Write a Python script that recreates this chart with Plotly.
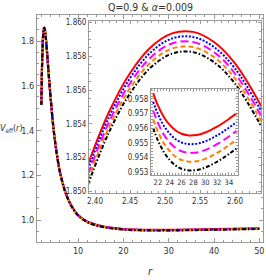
import plotly.graph_objects as go

# ---------------- data ----------------
r_main = [1.9, 2.0, 2.1, 2.2, 2.3, 2.4, 2.53, 2.64, 2.8, 3.0, 3.3, 3.6, 4.0, 4.5, 5, 5.5, 6, 7, 8, 9,
          10, 12, 14, 16, 18, 21, 24, 28, 32, 36, 40, 45, 50]
red_main = [1.5160, 1.6400, 1.7280, 1.7900, 1.8300, 1.8520, 1.8595, 1.8550, 1.8320, 1.7900, 1.7120, 1.6320,
            1.5350, 1.4250, 1.3400, 1.2720, 1.2150, 1.1380, 1.0850, 1.0490, 1.0220, 0.9930, 0.9780, 0.9695,
            0.9638, 0.9585, 0.9562, 0.9555, 0.9561, 0.9574, 0.9590, 0.9608, 0.9626]
blue_main = [1.5157, 1.6397, 1.7277, 1.7897, 1.8297, 1.8517, 1.8592, 1.8547, 1.8317, 1.7897, 1.7117, 1.6317,
             1.5347, 1.4245, 1.3395, 1.2715, 1.2145, 1.1375, 1.0845, 1.0485, 1.0215, 0.9925, 0.9774, 0.9689,
             0.9632, 0.9579, 0.9556, 0.9549, 0.9555, 0.9568, 0.9584, 0.9602, 0.9620]
magenta_main = [1.5154, 1.6394, 1.7274, 1.7894, 1.8294, 1.8514, 1.8589, 1.8544, 1.8314, 1.7894, 1.7114, 1.6314,
                1.5344, 1.4240, 1.3390, 1.2710, 1.2140, 1.1370, 1.0840, 1.0480, 1.0210, 0.9920, 0.9768, 0.9683,
                0.9626, 0.9573, 0.9550, 0.9543, 0.9549, 0.9562, 0.9578, 0.9596, 0.9614]
orange_main = [1.5151, 1.6391, 1.7271, 1.7891, 1.8291, 1.8511, 1.8586, 1.8541, 1.8311, 1.7891, 1.7111, 1.6311,
               1.5341, 1.4235, 1.3385, 1.2705, 1.2135, 1.1365, 1.0835, 1.0475, 1.0205, 0.9915, 0.9762, 0.9677,
               0.9620, 0.9567, 0.9544, 0.9537, 0.9543, 0.9556, 0.9572, 0.9590, 0.9608]
black_main = [1.5148, 1.6388, 1.7268, 1.7888, 1.8288, 1.8508, 1.8583, 1.8538, 1.8308, 1.7888, 1.7108, 1.6308,
              1.5338, 1.4230, 1.3380, 1.2700, 1.2130, 1.1360, 1.0830, 1.0470, 1.0200, 0.9910, 0.9756, 0.9671,
              0.9614, 0.9561, 0.9538, 0.9531, 0.9537, 0.9550, 0.9566, 0.9584, 0.9602]

# inset 1 (around the peak)
r_in1 = [2.39, 2.42, 2.45, 2.48, 2.51, 2.54, 2.57, 2.60, 2.64]
red_in1 = [1.8516, 1.8547, 1.8570, 1.85855, 1.85936, 1.85945, 1.85885, 1.85758, 1.85487]
blue_in1 = [1.8513, 1.8544, 1.8567, 1.85825, 1.85906, 1.85915, 1.85855, 1.85728, 1.85457]
magenta_in1 = [1.8510, 1.8541, 1.8564, 1.85795, 1.85876, 1.85885, 1.85825, 1.85698, 1.85427]
orange_in1 = [1.8507, 1.8538, 1.8561, 1.85765, 1.85846, 1.85855, 1.85795, 1.85668, 1.85397]
black_in1 = [1.8504, 1.8535, 1.8558, 1.85735, 1.85816, 1.85825, 1.85765, 1.85638, 1.85367]

# inset 2 (around the minimum)
r_in2 = [21.2, 22, 23, 24, 25, 26, 27, 28, 29, 30, 31, 32, 33, 34, 35.3]
red_in2 = [0.95840, 0.95756, 0.95677, 0.95622, 0.95584, 0.95562, 0.95552, 0.95551, 0.95557, 0.95570,
           0.95588, 0.95610, 0.95635, 0.95663, 0.95701]
blue_in2 = [0.95780, 0.95696, 0.95617, 0.95562, 0.95524, 0.95502, 0.95492, 0.95491, 0.95497, 0.95510,
            0.95528, 0.95550, 0.95575, 0.95603, 0.95641]
magenta_in2 = [0.95720, 0.95636, 0.95557, 0.95502, 0.95464, 0.95442, 0.95432, 0.95431, 0.95437, 0.95450,
               0.95468, 0.95490, 0.95515, 0.95543, 0.95581]
orange_in2 = [0.95660, 0.95576, 0.95497, 0.95442, 0.95404, 0.95382, 0.95372, 0.95371, 0.95377, 0.95390,
              0.95408, 0.95430, 0.95455, 0.95483, 0.95521]
black_in2 = [0.95600, 0.95516, 0.95437, 0.95382, 0.95344, 0.95322, 0.95312, 0.95311, 0.95317, 0.95330,
             0.95348, 0.95370, 0.95395, 0.95423, 0.95461]

main_xticks = [10, 20, 30, 40, 50]
main_yticks = [1.0, 1.2, 1.4, 1.6, 1.8]
in1_xticks = [2.40, 2.45, 2.50, 2.55, 2.60]
in1_yticks = [1.850, 1.852, 1.854, 1.856, 1.858, 1.860]
in2_xticks = [22, 24, 26, 28, 30, 32, 34]
in2_yticks = [0.953, 0.954, 0.955, 0.956, 0.957, 0.958]

title_text = "Q=0.9 &amp; <i>α</i>=0.009"

# ---------------- styles ----------------
styles = [
    ("#ff0000", "solid"),
    ("#0000ff", "2px,1.6px"),
    ("#ff00ff", "8px,4px"),
    ("#ff8000", "5px,3px"),
    ("#000000", "4px,2px,1.5px,2px"),
]
FONT = "Liberation Sans Narrow, Arial Narrow, DejaVu Sans Condensed, Liberation Sans, Arial, sans-serif"
FRAME = "#9a9a9a"

fig = go.Figure()

sets = [
    ("x", "y", r_main, [red_main, blue_main, magenta_main, orange_main, black_main], 2.2),
    ("x2", "y2", r_in1, [red_in1, blue_in1, magenta_in1, orange_in1, black_in1], 2.0),
    ("x3", "y3", r_in2, [red_in2, blue_in2, magenta_in2, orange_in2, black_in2], 2.0),
]
for xa, ya, xs, series, w in sets:
    for (col, dash), ys in zip(styles, series):
        fig.add_trace(go.Scatter(x=xs, y=ys, xaxis=xa, yaxis=ya, mode="lines",
                                 line=dict(color=col, dash=dash, width=w, shape="spline"),
                                 showlegend=False, hoverinfo="skip"))


def ax(rng, tickvals, fmt, dom, anchor, minor_dtick, fsize, ticklen=4):
    return dict(range=rng, domain=dom, anchor=anchor, tickvals=tickvals, tickformat=fmt,
                showline=True, linecolor=FRAME, linewidth=1, mirror="allticks",
                ticks="inside", ticklen=ticklen, tickcolor=FRAME, tickwidth=1,
                showgrid=False, zeroline=False, automargin=False,
                tickfont=dict(family=FONT, size=fsize, color="#333333"),
                minor=dict(dtick=minor_dtick, ticks="inside", ticklen=2, tickcolor=FRAME, showgrid=False))


layout = dict(
    width=266, height=280,
    margin=dict(l=37, r=3, t=15, b=38),
    paper_bgcolor="white", plot_bgcolor="white",
    xaxis=ax([0.94, 50.8], main_xticks, "d", [0, 1], "y", 2, 9),
    yaxis=ax([0.9017, 1.9162], main_yticks, ".1f", [0, 1], "x", 0.05, 9),
    xaxis2=ax([2.3914, 2.6371], in1_xticks, ".2f", [0.230, 0.991], "y2", 0.01, 8, 3),
    yaxis2=ax([1.8499, 1.8601], in1_yticks, ".3f", [0.216, 0.974], "x2", 0.0005, 8, 3),
    xaxis3=ax([20.82, 35.52], in2_xticks, "d", [0.504, 0.889], "y3", 0.5, 7.5, 3),
    yaxis3=ax([0.95279, 0.95868], in2_yticks, ".3f", [0.295, 0.674], "x3", 0.0002, 8, 3),
    annotations=[
        dict(text=title_text, xref="paper", yref="paper", x=0.5, y=1.035, showarrow=False,
             xanchor="center", yanchor="middle", font=dict(family=FONT, size=10.5, color="#333333")),
        dict(text="<i>V</i><sub>eff</sub>(<i>r</i>)", xref="paper", yref="paper", x=-0.115, y=0.50,
             showarrow=False, xanchor="center", yanchor="middle",
             font=dict(family=FONT, size=9, color="#333333")),
        dict(text="<i>r</i>", xref="paper", yref="paper", x=0.5, y=-0.13, showarrow=False,
             xanchor="center", yanchor="middle", font=dict(family=FONT, size=11, color="#333333")),
    ],
)
fig.update_layout(**layout)
fig.write_html("out.html", config={"displayModeBar": False},
               post_script="document.body.style.margin='0';")
